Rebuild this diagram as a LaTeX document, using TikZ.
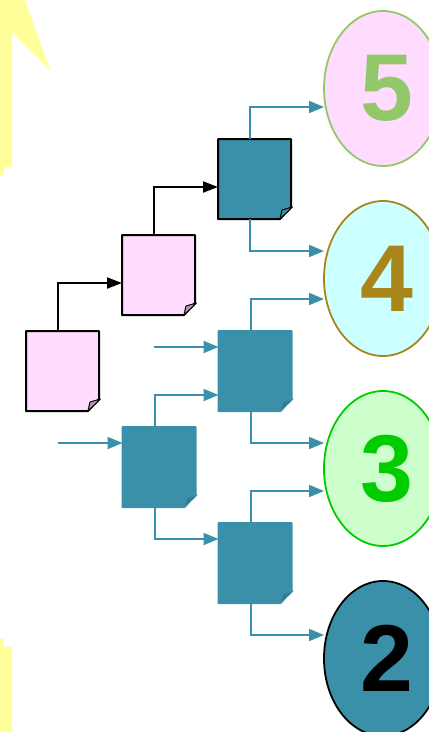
\documentclass[tikz,border=0pt]{standalone}
\usepackage{fontspec}
\setmainfont{Liberation Sans}
\usetikzlibrary{arrows.meta,shapes.geometric}
\definecolor{pagepink}{HTML}{FFDCFF}
\definecolor{pageteal}{HTML}{3A90A8}
\definecolor{lemon}{HTML}{FFFF99}
\definecolor{leaf}{HTML}{92C86A}
\definecolor{ochre}{HTML}{A8861C}
\definecolor{aqua}{HTML}{CCFFFF}
\definecolor{mint}{HTML}{CCFFCC}
\definecolor{vivid}{HTML}{00CC00}
\newcommand{\rankdigit}[1]{\hspace{8pt}\raisebox{-3pt}{#1}}
\tikzset{
    page/.style={minimum width=73pt, minimum height=80pt, inner sep=0pt, outer sep=0pt},
    rank/.style={ellipse, minimum width=118pt, minimum height=155pt, inner sep=0pt, outer sep=0pt, line width=1.8pt, font=\fontsize{95}{95}\selectfont\bfseries},
    blackline/.style={black, line width=2pt, -{Triangle[length=15pt,width=11pt]}},
    tealline/.style={pageteal, line width=2pt, -{Triangle[length=15pt,width=12pt]}}
}

\begin{document}
\begin{tikzpicture}[x=1pt, y=-1pt]
    \useasboundingbox (0, 0) rectangle (429, 732);
    \clip (0, 0) rectangle (429, 732);

    % yellow scraps at the left edge
    \fill[lemon] (0, 0) -- (25, 0) -- (50, 70) -- (12, 32) -- (12, 167) -- (4, 167) -- (4, 175) -- (0, 175) -- cycle;
    \fill[lemon] (0, 639) -- (4, 639) -- (4, 647) -- (12, 647) -- (12, 732) -- (0, 732) -- cycle;

    % pages
    \foreach \n / \x / \y / \c / \l / \k in {pageA/62.5/371/pagepink/black/70, pageB/158.5/275/pagepink/black/70, pageC/254.5/179/pageteal/black/100, pageD/255/371/pageteal/pageteal/85, pageE/159/467/pageteal/pageteal/85, pageF/255/563/pageteal/pageteal/85} {
        \node[page] (\n) at (\x, \y) {};
        \filldraw[draw=\l, fill=\c, line width=2pt, line join=round] (\n.north west) -- (\n.north east) -- ([yshift=12pt]\n.south east) -- ([xshift=-11pt]\n.south east) -- (\n.south west) -- cycle;
        \filldraw[draw=\l, fill=\c!\k!black, line width=1pt, line join=round] ([xshift=1.5pt, yshift=12pt]\n.south east) -- ([xshift=-9pt, yshift=9pt]\n.south east) -- ([xshift=-11pt]\n.south east) -- cycle;
    }

    % ranks
    \node[rank, draw=leaf, fill=pagepink, text=leaf] (rankFive) at (383, 88.5) {\rankdigit{5}};
    \node[rank, draw=ochre, fill=aqua, text=ochre] (rankFour) at (383, 278.5) {\rankdigit{4}};
    \node[rank, draw=vivid, fill=mint, text=vivid] (rankThree) at (383, 468.5) {\rankdigit{3}};
    \node[rank, draw=black, fill=pageteal, text=black] (rankTwo) at (383, 658.5) {\rankdigit{2}};

    \coordinate (inD) at (154, 347);
    \coordinate (inE) at (58, 443);

    \draw[blackline] ([xshift=32pt]pageA.north west) |- ([yshift=-48pt]pageB.north west);
    \draw[blackline] ([xshift=32pt]pageB.north west) |- ([yshift=-48pt]pageC.north west);

    \draw[tealline] ([xshift=32pt]pageC.north west) |- ([yshift=-18.5pt]rankFive.west);
    \draw[tealline] ([xshift=32pt]pageC.south west) |- ([yshift=27.5pt]rankFour.west);
    \draw[tealline] ([xshift=32pt]pageD.north west) |- ([yshift=-20.5pt]rankFour.west);
    \draw[tealline] ([xshift=32pt]pageD.south west) |- ([yshift=25.5pt]rankThree.west);
    \draw[tealline] ([xshift=32pt]pageF.north west) |- ([yshift=-22.5pt]rankThree.west);
    \draw[tealline] ([xshift=32pt]pageF.south west) |- ([yshift=23.5pt]rankTwo.west);

    \draw[tealline] (inD) -- ([yshift=-16pt]pageD.north west);
    \draw[tealline] (inE) -- ([yshift=-16pt]pageE.north west);
    \draw[tealline] ([xshift=32pt]pageE.north west) |- ([yshift=-64pt]pageD.north west);
    \draw[tealline] ([xshift=32pt]pageE.south west) |- ([yshift=-16pt]pageF.north west);
\end{tikzpicture}
\end{document}
